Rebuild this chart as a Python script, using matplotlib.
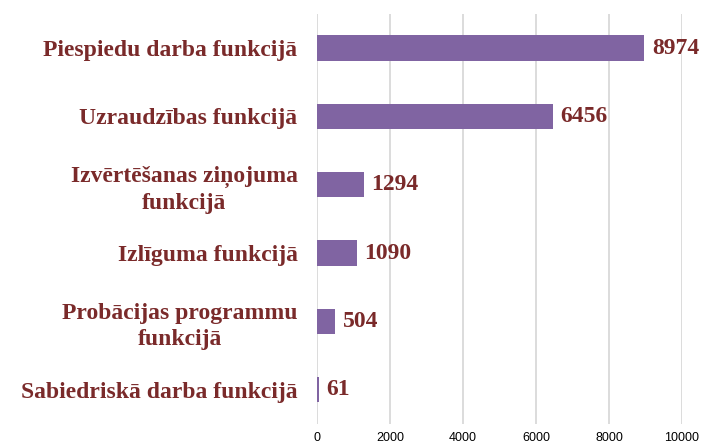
import matplotlib
matplotlib.use("Agg")
import matplotlib.pyplot as plt

categories = [
    "Piespiedu darba funkcijā",
    "Uzraudzības funkcijā",
    "Izvērtēšanas ziņojuma\nfunkcijā",
    "Izlīguma funkcijā",
    "Probācijas programmu\nfunkcijā",
    "Sabiedriskā darba funkcijā",
]
values = [8974, 6456, 1294, 1090, 504, 61]
xticks = [0, 2000, 4000, 6000, 8000, 10000]

bar_color = "#8064A2"
text_color = "#7A2A2A"
serif = ["Liberation Serif", "DejaVu Serif"]

fig = plt.figure(figsize=(7.03, 4.47), dpi=100)
ax = fig.add_axes([0.451, 0.0515, 0.519, 0.9175])

ypos = list(range(len(categories)))[::-1]
ax.barh(ypos, values, height=0.37, color=bar_color, zorder=3)
ax.set_ylim(-0.5, len(categories) - 0.5)
ax.set_xlim(0, 10000)
ax.set_xticks(xticks)
ax.set_xticklabels([str(t) for t in xticks], fontsize=9, family=["Liberation Sans"],
                   color="black")
ax.set_yticks(ypos)
ax.set_yticklabels(categories, fontsize=17, fontweight="bold", family=serif,
                   color=text_color, multialignment="center", linespacing=1.3)
ax.tick_params(axis="y", length=0, pad=14)
ax.tick_params(axis="x", length=0, pad=6)
ax.grid(axis="x", color="#D9D9D9", linewidth=1.3, zorder=0)
for s in ax.spines.values():
    s.set_visible(False)

for y, v in zip(ypos, values):
    ax.text(v + 200, y, str(v), va="center", ha="left", fontsize=17,
            fontweight="bold", family=serif, color=text_color, zorder=4)

fig.savefig("out.png", dpi=100)
